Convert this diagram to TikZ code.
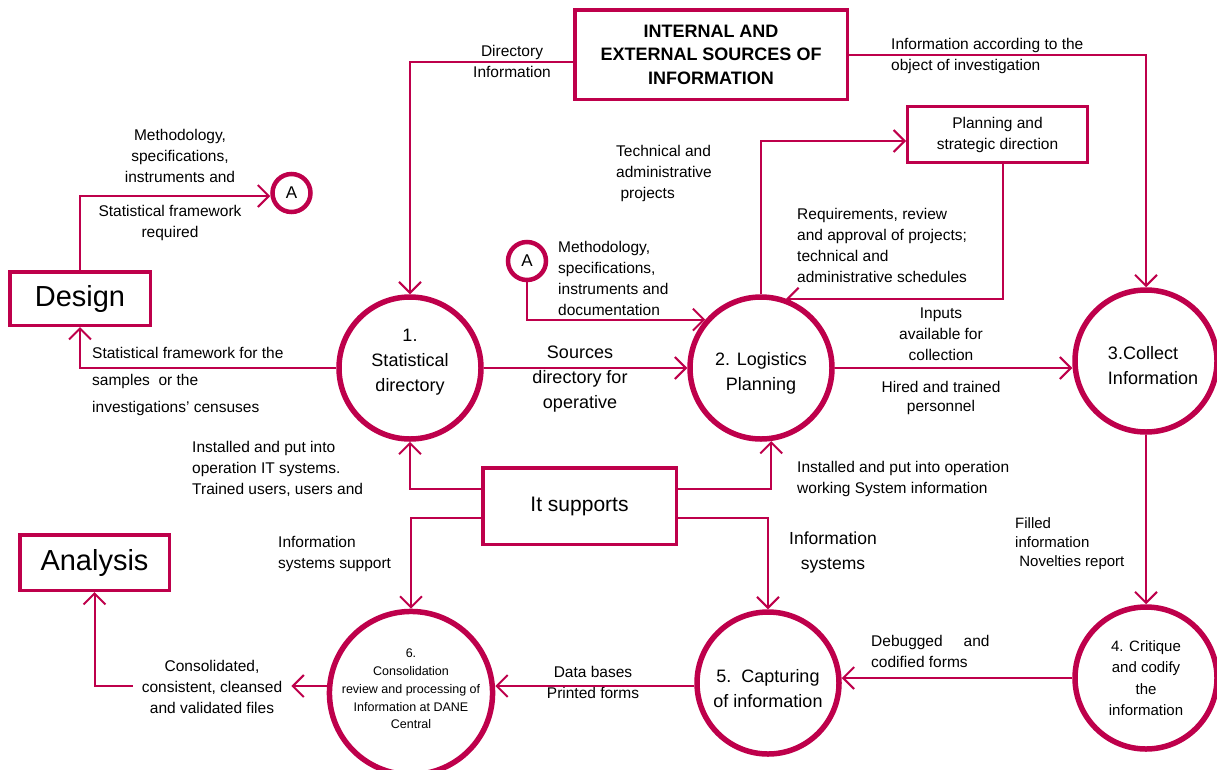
\documentclass[tikz,border=0pt]{standalone}
\usepackage{fontspec}
\setmainfont{Liberation Sans}
\usetikzlibrary{arrows.meta}
\definecolor{crim}{RGB}{190,0,75}
\begin{document}
\begin{tikzpicture}[x=1pt,y=-1pt,
  conn/.style={draw=crim, line width=2pt},
  arr/.style={conn, -{Straight Barb[length=11pt,width=22pt]}},
  proc/.style={circle, draw=crim, line width=5.5pt, minimum size=142pt, inner sep=0pt, align=center, font=\fontsize{18}{25}\selectfont},
  box/.style={draw=crim, line width=3.5pt, inner sep=0pt, align=center},
  conA/.style={circle, draw=crim, line width=4.5pt, minimum size=38pt, inner sep=0pt, font=\fontsize{17}{20}\selectfont},
  lbl/.style={inner sep=0pt, font=\fontsize{15.5}{21}\selectfont},
  lblL/.style={lbl, anchor=west, align=left},
  lblC/.style={lbl, align=center}
]
\useasboundingbox (0,0) rectangle (1217,769);

% boxes
\node[box, minimum width=272.5pt, minimum height=89.5pt, font=\bfseries\fontsize{18}{23.5}\selectfont] (src) at (711,54.5) {INTERNAL AND\\EXTERNAL SOURCES OF\\INFORMATION};
\node[box, line width=3pt, minimum width=180pt, minimum height=56pt, font=\fontsize{15.5}{21}\selectfont] (plan) at (997.5,134.5) {Planning and\\strategic direction};
\node[box, minimum width=140.5pt, minimum height=53.5pt, font=\fontsize{29}{32}\selectfont] (design) at (80,298.5) {Design};
\node[box, minimum width=149.5pt, minimum height=55.5pt, font=\fontsize{29}{32}\selectfont] (analysis) at (94.5,562.5) {Analysis};
\node[box, minimum width=193.5pt, minimum height=76.5pt, font=\fontsize{21}{25}\selectfont] (its) at (579.5,506) {It supports};

% connectors A
\node[conA] (A1) at (291.5,193) {A};
\node[conA] (A2) at (527,261) {A};

% process circles
\node[proc] (n1) at (410,368) {1.\\Statistical\\directory\rule[-16pt]{0pt}{0pt}};
\node[proc] (n2) at (761,368) {\rule{0pt}{23pt}2. Logistics\\Planning};
\node[proc, align=left] (n3) at (1146,361) {\hspace*{14pt}\rule{0pt}{23pt}3.Collect\\\hspace*{14pt}Information};
\node[proc, font=\fontsize{15}{21.5}\selectfont] (n4) at (1146,678) {4. Critique\\and codify\\the\\information};
\node[proc] (n5) at (768,683) {\rule{0pt}{25pt}5.\ \ Capturing\\of information};
\node[proc, minimum size=162pt, font=\fontsize{12.5}{17.7}\selectfont] (n6) at (411,693) {6.\\Consolidation\\review and processing of\\Information at DANE\\Central\rule[-8pt]{0pt}{0pt}};

% labels
\node[lblC] (tdir) at (512,61.5) {Directory\\Information};
\node[lblL] (tacc) at (891,55.5) {Information according to the\\object of investigation};
\node[lblL] (ttech) at (616,173) {Technical and\\administrative\\\ projects};
\node[lblL] (treq) at (797,245.5) {Requirements, review\\and approval of projects;\\technical and\\administrative schedules};
\node[lblL] (tmeth2) at (558,278) {Methodology,\\specifications,\\instruments and\\documentation};
\node[lblC] (tmeth1) at (180,156) {Methodology,\\specifications,\\instruments and};
\node[lblC] (tsfreq) at (170,222.5) {Statistical framework\\required};
\node[lblL, font=\fontsize{15.5}{27}\selectfont] (tsamp) at (92,381) {Statistical framework for the\\samples\ \ or the\\investigations' censuses};
\node[lblC, font=\fontsize{18}{25}\selectfont] (tsrc) at (580,379) {Sources\\directory for\\operative};
\node[lblC] (tinp) at (941,334.5) {Inputs\\available for\\collection};
\node[lblC, font=\fontsize{15.5}{18.5}\selectfont] (thire) at (941,398) {Hired and trained\\personnel};
\node[lblL] (tinst1) at (192,469) {Installed and put into\\operation IT systems.\\Trained users, users and};
\node[lblL] (tinst2) at (797,478.5) {Installed and put into operation\\working System information};
\node[lblL] (tissup) at (278,553.5) {Information\\systems support};
\node[lblC, font=\fontsize{17.5}{25}\selectfont] (tinfsys) at (833,552.5) {Information\\systems};
\node[lblL, font=\fontsize{15}{19}\selectfont] (tfill) at (1015,543.5) {Filled\\information\\\ Novelties report};
\node[lblL] (tdebug) at (871,651.5) {Debugged\hspace{21pt}and\\codified forms};
\node[lblC] (tdb) at (593,682) {Data bases\\Printed forms};
\node[lblC, inner xsep=9pt] (tcons) at (212,686.5) {Consolidated,\\consistent, cleansed\\and validated files};

% connectors
\draw[arr] (src.west |- 0,62) -| (n1.north);
\draw[arr] (src.east |- 0,55) -| (n3.north);
\draw[arr] (n2.north) |- (plan.west |- 0,141);
\draw[arr] (plan.south -| 1003,0) |- (n2.70);
\draw[arr] (A2.south) |- (n2.139);
\draw[arr] (n1.east) -- (n2.west);
\draw[arr] (n2.east) -- (n2.east -| n3.west);
\draw[arr] (n3.south) -- (n4.north);
\draw[arr] (n4.west) -- (n4.west -| n5.east);
\draw[arr] (n5.west |- 0,686) -- (n6.east |- 0,686);
\draw[arr] (n6.west |- 0,686) -- (tcons.east |- 0,686);
\draw[arr] (tcons.west |- 0,686) -| (analysis.south);
\draw[arr] (its.west |- 0,489) -| (n1.south);
\draw[arr] (its.west |- 0,518) -| (n6.north);
\draw[arr] (its.east |- 0,489) -| (n2.-82);
\draw[arr] (its.east |- 0,518) -| (n5.north);
\draw[arr] (design.north) |- (A1.west |- 0,196);
\draw[arr] (n1.west) -| (design.south);
\end{tikzpicture}
\end{document}
